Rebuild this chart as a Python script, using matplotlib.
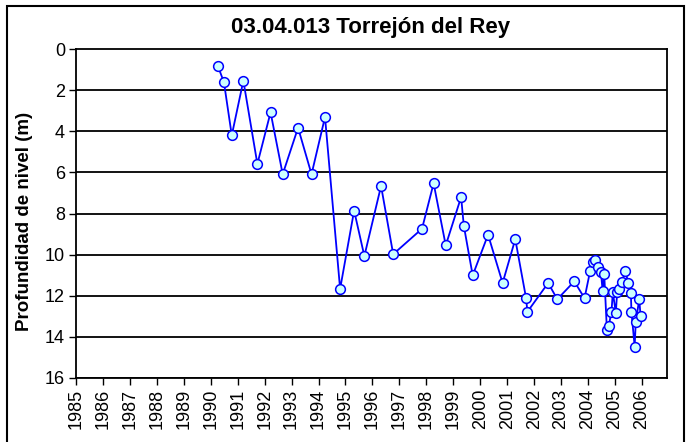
import matplotlib
matplotlib.use('Agg')
import numpy as np
from matplotlib import pyplot as plt
from matplotlib.patches import Rectangle

# decimal year of each measurement and water-level depth (m)
years = [1990.26, 1990.49, 1990.78, 1991.21, 1991.73, 1992.22, 1992.67,
         1993.24, 1993.74, 1994.24, 1994.80, 1995.32, 1995.70, 1996.32,
         1996.77, 1997.84, 1998.27, 1998.72, 1999.29, 1999.39, 1999.72,
         2000.29, 2000.83, 2001.30, 2001.70, 2001.75, 2002.52, 2002.86,
         2003.49, 2003.87, 2004.08, 2004.19, 2004.27, 2004.38, 2004.48,
         2004.54, 2004.60, 2004.70, 2004.77, 2004.87, 2004.92, 2005.03,
         2005.08, 2005.16, 2005.26, 2005.38, 2005.50, 2005.59, 2005.61,
         2005.73, 2005.77, 2005.90, 2005.95]
depth = [0.81, 1.62, 4.20, 1.54, 5.59, 3.08, 6.09,
         3.83, 6.09, 3.31, 11.67, 7.86, 10.07, 6.66,
         9.98, 8.74, 6.53, 9.55, 7.20, 8.59, 11.01,
         9.03, 11.38, 9.25, 12.11, 12.78, 11.38, 12.17,
         11.30, 12.12, 10.78, 10.36, 10.28, 10.59, 10.86,
         11.75, 10.93, 13.67, 13.45, 12.78, 11.82, 12.84,
         11.84, 11.68, 11.32, 10.79, 11.39, 11.88, 12.78,
         14.47, 13.29, 12.17, 13.00]
year_ticks = list(range(1985, 2007))
depth_ticks = list(range(0, 17, 2))

TITLE = '03.04.013 Torrejón del Rey'
Y_LABEL = 'Profundidad de nivel (m)'

plt.rcParams['font.family'] = ['Liberation Sans', 'DejaVu Sans']

f = plt.figure(figsize=(6.92, 4.42), dpi=100)
ax = f.add_axes([76 / 692, 1 - 378 / 442, (667 - 76) / 692, (378 - 49) / 442])

# chart-area border
f.patches.append(Rectangle((7 / 692, -0.05), (684 - 7) / 692, 1.05 - 6 / 442,
                           transform=f.transFigure, fill=False,
                           edgecolor='black', linewidth=1.5))

for yv in depth_ticks[1:]:
    ax.axhline(yv, color='black', linewidth=1.3, zorder=1)

ax.plot(years, depth, color='#0000FF', linewidth=1.3, marker='o',
        markersize=7, markerfacecolor='#CCFFFF', markeredgecolor='#0000FF',
        markeredgewidth=1.1, zorder=3)

ax.set_xlim(1985, 2006.93)
ax.set_ylim(16, 0)
ax.set_xticks(year_ticks)
ax.set_xticklabels([str(y) for y in year_ticks], rotation=90, fontsize=13)
ax.set_yticks(depth_ticks)
ax.set_yticklabels([str(v) for v in depth_ticks], fontsize=13)
ax.tick_params(direction='out', length=5, width=1, color='black', pad=3)
for sp in ax.spines.values():
    sp.set_linewidth(1.3)
    sp.set_color('black')

ax.set_ylabel(Y_LABEL, fontsize=13.5, fontweight='bold')
ax.yaxis.set_label_coords((33 - 76) / 591, 0.475)
f.text(371 / 692, 1 - 27 / 442, TITLE, fontsize=16, fontweight='bold',
       ha='center', va='center')

f.savefig('out.png', dpi=100)
